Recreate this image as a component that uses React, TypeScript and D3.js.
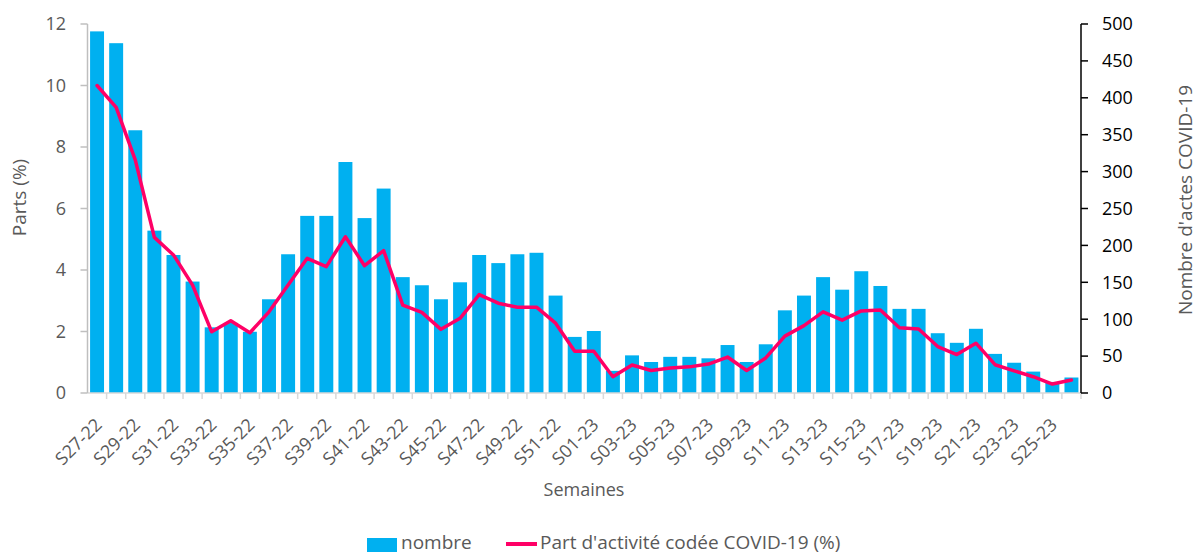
import React from "react";
import { scaleBand, scaleLinear, line } from "d3";

const weeks = [
  "S27-22", "S28-22", "S29-22", "S30-22", "S31-22", "S32-22", "S33-22", "S34-22", "S35-22", "S36-22",
  "S37-22", "S38-22", "S39-22", "S40-22", "S41-22", "S42-22", "S43-22", "S44-22", "S45-22", "S46-22",
  "S47-22", "S48-22", "S49-22", "S50-22", "S51-22", "S52-22",
  "S01-23", "S02-23", "S03-23", "S04-23", "S05-23", "S06-23", "S07-23", "S08-23", "S09-23", "S10-23",
  "S11-23", "S12-23", "S13-23", "S14-23", "S15-23", "S16-23", "S17-23", "S18-23", "S19-23", "S20-23",
  "S21-23", "S22-23", "S23-23", "S24-23", "S25-23", "S26-23"
];

const nombre = [
  490, 474, 356, 220, 187, 151, 89, 95, 83, 127,
  188, 240, 240, 313, 237, 277, 157, 146, 127, 150,
  187, 176, 188, 190, 132, 76,
  84, 30, 51, 42, 49, 49, 47, 65, 42, 66,
  112, 132, 157, 140, 165, 145, 114, 114, 81, 68,
  87, 53, 41, 29, 15, 21
];

const part = [
  10.0, 9.29, 7.58, 5.06, 4.49, 3.51, 1.99, 2.35, 1.96, 2.64,
  3.51, 4.38, 4.11, 5.08, 4.14, 4.63, 2.86, 2.62, 2.07, 2.43,
  3.2, 2.92, 2.79, 2.79, 2.27, 1.36,
  1.36, 0.53, 0.91, 0.73, 0.81, 0.85, 0.94, 1.17, 0.73, 1.14,
  1.85, 2.19, 2.64, 2.37, 2.67, 2.7, 2.12, 2.08, 1.51, 1.25,
  1.62, 0.92, 0.72, 0.53, 0.29, 0.42
];

const leftTicks = [0, 2, 4, 6, 8, 10, 12];
const rightTicks = [0, 50, 100, 150, 200, 250, 300, 350, 400, 450, 500];

const W = 1196;
const H = 553;
const x0 = 87.5;
const x1 = 1081;
const yTop = 24;
const yBot = 393;
const font = "'Open Sans', 'Noto Sans', sans-serif";
const grey = "#595959";
const blue = "#00B0F0";
const pink = "#FF0066";

export default function App() {
  const x = scaleBand<string>()
    .domain(weeks)
    .range([x0, x1])
    .paddingInner(0.27)
    .paddingOuter(0.135);
  const step = (x1 - x0) / weeks.length;
  const yL = scaleLinear().domain([0, 12]).range([yBot, yTop]);
  const yR = scaleLinear().domain([0, 500]).range([yBot, yTop]);

  const path = line<number>()
    .x((d, i) => (x(weeks[i]) as number) + x.bandwidth() / 2)
    .y(d => yL(d))(part);

  return (
    <svg
      width={W}
      height={H}
      style={{ position: "absolute", left: 0, top: 0, background: "#fff" }}
      fontFamily={font}
    >
      {/* bars */}
      {nombre.map((v, i) => (
        <rect
          key={weeks[i]}
          x={x(weeks[i])}
          y={yR(v)}
          width={x.bandwidth()}
          height={yBot - yR(v)}
          fill={blue}
        />
      ))}

      {/* category axis */}
      <line x1={x0} x2={x1} y1={yBot} y2={yBot} stroke="#d9d9d9" strokeWidth={1.5} />
      {weeks.map((w, i) => (
        <line
          key={"t" + w}
          x1={x0 + step * (i + 1)}
          x2={x0 + step * (i + 1)}
          y1={yBot}
          y2={yBot + 6}
          stroke="#d9d9d9"
          strokeWidth={1.5}
        />
      ))}
      {weeks.map((w, i) =>
        i % 2 === 0 ? (
          <text
            key={"l" + w}
            transform={`translate(${(x(w) as number) + x.bandwidth() / 2 + 6},${yBot + 33}) rotate(-45)`}
            textAnchor="end"
            fontSize={18}
            fill={grey}
          >
            {w}
          </text>
        ) : null
      )}

      {/* left axis */}
      <line x1={x0} x2={x0} y1={yTop} y2={yBot} stroke="#bfbfbf" strokeWidth={1.5} />
      {leftTicks.map(t => (
        <g key={"L" + t}>
          <line x1={x0 - 7} x2={x0} y1={yL(t)} y2={yL(t)} stroke="#bfbfbf" strokeWidth={1.5} />
          <text x={66} y={yL(t)} dy="0.35em" textAnchor="end" fontSize={18} fill={grey}>
            {t}
          </text>
        </g>
      ))}
      <text
        transform={`translate(19.5,197.5) rotate(-90)`}
        textAnchor="middle"
        dy="0.35em"
        fontSize={19}
        fill={grey}
      >
        Parts (%)
      </text>

      {/* right axis */}
      <line x1={x1} x2={x1} y1={yTop} y2={yBot} stroke="#000" strokeWidth={1.5} />
      {rightTicks.map(t => (
        <g key={"R" + t}>
          <line x1={x1} x2={x1 + 7} y1={yR(t)} y2={yR(t)} stroke="#000" strokeWidth={1.5} />
          <text x={1102} y={yR(t)} dy="0.35em" textAnchor="start" fontSize={18} fill="#000">
            {t}
          </text>
        </g>
      ))}
      <text
        transform={`translate(1185,200) rotate(-90)`}
        textAnchor="middle"
        dy="0.35em"
        fontSize={19}
        fill={grey}
      >
        Nombre d'actes COVID-19
      </text>

      {/* line */}
      <path d={path ?? ""} fill="none" stroke={pink} strokeWidth={3.5} strokeLinejoin="round" strokeLinecap="round" />

      {/* x title */}
      <text x={584} y={496} textAnchor="middle" fontSize={18} fill={grey}>
        Semaines
      </text>

      {/* legend */}
      <rect x={367} y={538} width={30} height={14} fill={blue} />
      <text x={401} y={549} fontSize={19} fill={grey}>
        nombre
      </text>
      <line x1={506} x2={537} y1={544} y2={544} stroke={pink} strokeWidth={4} />
      <text x={540} y={549} fontSize={19} fill={grey}>
        Part d'activité codée COVID-19 (%)
      </text>
    </svg>
  );
}
